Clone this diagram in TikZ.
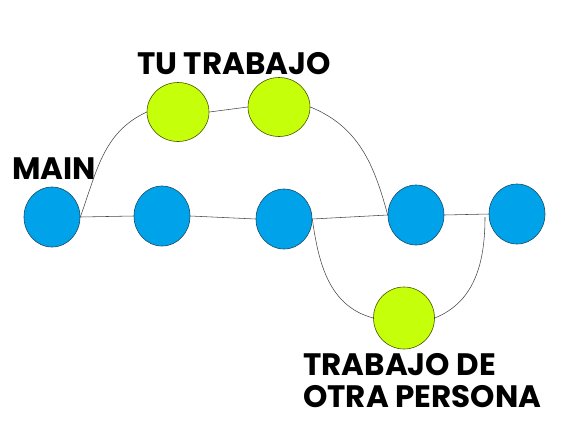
\documentclass[tikz,border=0pt]{standalone}
\usepackage{fontspec}
\newfontfamily\lblfont{Poppins}
\usetikzlibrary{shapes.geometric}
\definecolor{cblue}{RGB}{0,163,234}
\definecolor{cblueline}{RGB}{25,75,105}
\definecolor{cgreen}{RGB}{198,255,10}
\definecolor{cgreenline}{RGB}{70,85,0}
\definecolor{cconn}{RGB}{70,70,70}
\tikzset{
  bluec/.style={ellipse, draw=cblueline, fill=cblue, line width=0.6pt, minimum width=56pt, minimum height=60pt, inner sep=0pt},
  greenc/.style={ellipse, draw=cgreenline, fill=cgreen, line width=0.6pt, minimum width=62pt, minimum height=59pt, inner sep=0pt},
  conn/.style={draw=cconn, line width=0.55pt},
  lbl/.style={font=\lblfont\bfseries\fontsize{31}{32}\selectfont, inner sep=0pt, text=black}
}
\begin{document}
\begin{tikzpicture}[x=1pt,y=-1pt]
\useasboundingbox (0,0) rectangle (568,440);
\coordinate (j2) at (485,217);
\node[bluec] (b1) at (52,217) {};
\node[bluec] (b2) at (162,216) {};
\node[bluec] (b3) at (284,219) {};
\node[bluec] (b4) at (416,215) {};
\node[bluec] (b5) at (517,214) {};
\node[greenc] (g1) at (178,112) {};
\node[greenc] (g2) at (279,107) {};
\node[greenc, minimum height=62pt, minimum width=61pt] (g3) at (404,318) {};
\draw[conn] (b1.east) -- (b2.west);
\draw[conn] (b2.east) -- (b3.west);
\draw[conn] (b3.east) -- (b4.west);
\draw[conn] (b4.east) -- (b5.west);
\draw[conn] (b1.east) to[out=70,in=205] (g1.west);
\draw[conn] (g1.east) -- (g2.west);
\draw[conn] (g2.east) to[out=-22,in=105] (b4.west);
\draw[conn] (b3.east) to[out=-82,in=165] (g3.west);
\draw[conn] (g3.east) to[out=22,in=-90] (j2);
\node[lbl, anchor=base west] (lmain) at (12,179) {MAIN};
\node[lbl, anchor=base west] (ltu) at (137,74) {TU TRABAJO};
\node[lbl, anchor=base west, align=left] (lotra) at (303,407) {TRABAJO DE\\OTRA PERSONA};
\end{tikzpicture}
\end{document}
